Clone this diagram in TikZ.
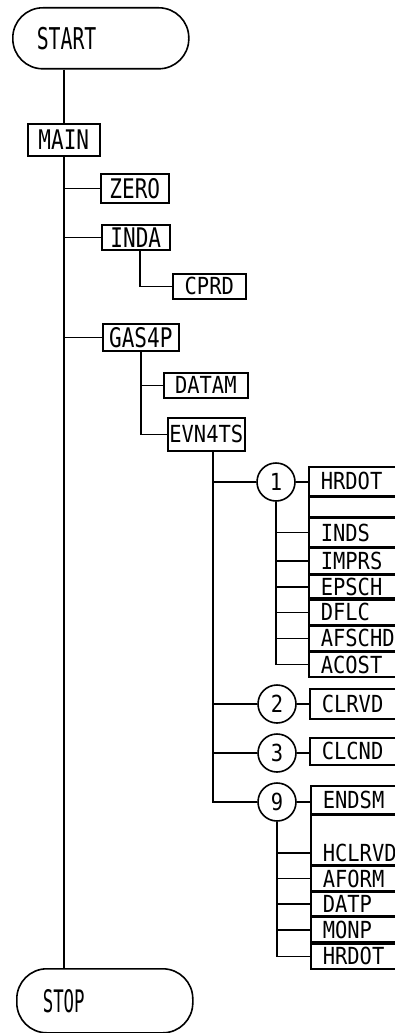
\documentclass[tikz,border=0pt]{standalone}
\usepackage{fontspec}
\newfontfamily\lblfont[FakeStretch=0.87]{DejaVu Sans Mono}
\newfontfamily\bigfont[FakeStretch=0.78]{DejaVu Sans Mono}
\newfontfamily\startfont[FakeStretch=0.66]{DejaVu Sans Mono}
\newfontfamily\stopfont[FakeStretch=0.56]{DejaVu Sans Mono}
\newcommand\lblsize{\lblfont\fontsize{23.5pt}{23.5pt}\selectfont}
\newcommand\bigsize{\bigfont\fontsize{27pt}{27pt}\selectfont}
\newcommand\startsize{\startfont\fontsize{30pt}{30pt}\selectfont}
\newcommand\stopsize{\stopfont\fontsize{31pt}{31pt}\selectfont}
\begin{document}
\begin{tikzpicture}[x=1pt,y=-1pt,line width=1.6pt,
  box/.style={draw, anchor=north west, inner sep=0pt, font=\lblsize, text height=17pt, text depth=0pt},
  bigbox/.style={box, font=\bigsize, text height=19.5pt},
  rbox/.style={draw, anchor=north west, inner xsep=12pt, inner ysep=0pt, text width=100pt, align=left, font=\lblsize, text height=17pt, text depth=0pt},
  circ/.style={draw, circle, minimum size=38pt, inner sep=0pt, font=\lblsize, text height=17pt, text depth=0pt},
  term/.style={draw, rounded corners=30pt, anchor=north west, align=left, inner ysep=0pt}]
\useasboundingbox (0,0) rectangle (395,1033);
\clip (0,0) rectangle (395,1033);
% terminals
\node[term, font=\startsize, text height=22pt, text depth=0pt, inner xsep=24pt, text width=128pt, minimum height=61pt] (start) at (12,7) {START};
\node[term, font=\stopsize, text height=23pt, text depth=0pt, inner xsep=26pt, text width=124pt, minimum height=64pt] (stop) at (16,968) {STOP};
% left part
\node[bigbox, minimum width=72pt, minimum height=32pt] (main) at (27,123) {MAIN};
\node[bigbox, minimum width=68pt, minimum height=29pt] (zero) at (100,173) {ZERO};
\node[bigbox, minimum width=68pt, minimum height=25pt] (inda) at (101,224) {INDA};
\node[box, minimum width=73pt, minimum height=25pt] (cprd) at (172,273) {CPRD};
\node[bigbox, minimum width=76pt, minimum height=27pt] (gas) at (102,323) {GAS4P};
\node[box, minimum width=84pt, minimum height=25pt] (datam) at (163,372) {DATAM};
\node[box, minimum width=77pt, minimum height=33pt] (evn) at (167,417) {EVN4TS};
% circles
\node[circ] (c1) at (276,482) {1};
\node[circ] (c2) at (277,704) {2};
\node[circ] (c3) at (277,753) {3};
\node[circ] (c9) at (277,802) {9};
% group 1
\node[rbox, minimum height=29pt] (h1) at (308,466) {HRDOT};
\node[rbox, minimum height=19pt] (e1) at (h1.south west) {};
\node[rbox, minimum height=29pt] (inds) at (e1.south west) {INDS};
\node[rbox, minimum height=25pt] (imprs) at (inds.south west) {IMPRS};
\node[rbox, minimum height=23pt] (epsch) at (imprs.south west) {EPSCH};
\node[rbox, minimum height=25pt] (dflc) at (epsch.south west) {DFLC};
\node[rbox, minimum height=24pt] (afschd) at (dflc.south west) {AFSCHD};
\node[rbox, minimum height=25pt] (acost) at (afschd.south west) {ACOST};
% groups 2,3
\node[rbox, minimum height=30pt] (clrvd) at (309,688) {CLRVD};
\node[rbox, minimum height=27pt] (clcnd) at (309,737) {CLCND};
% group 9
\node[rbox, minimum height=28pt] (endsm) at (310,785) {ENDSM};
\node[rbox, minimum height=49pt] (e9) at (endsm.south west) {};
\node[anchor=south west, inner xsep=12pt, inner ysep=3pt, font=\lblsize, text height=17pt, text depth=0pt] (hcl) at (e9.south west) {HCLRVD};
\node[rbox, minimum height=25pt] (aform) at (e9.south west) {AFORM};
\node[rbox, minimum height=23pt] (datp) at (aform.south west) {DATP};
\node[rbox, minimum height=25pt] (monp) at (datp.south west) {MONP};
\node[rbox, minimum height=25pt] (hrdot2) at (monp.south west) {HRDOT};
% connectors
\draw (main.north |- start.south) -- (main.north);
\draw (main.south) -- (main.south |- stop.north);
\draw (main.south |- zero.west) -- (zero.west);
\draw (main.south |- inda.west) -- (inda.west);
\draw (main.south |- gas.west) -- (gas.west);
\draw ([xshift=4pt]inda.south) |- (cprd.west);
\draw (gas.south) |- (datam.west);
\draw (gas.south) |- (evn.west);
\coordinate (es) at ([xshift=6.5pt]evn.south);
\draw (es) |- (c1.west);
\draw (es) |- (c2.west);
\draw (es) |- (c3.west);
\draw (es) |- (c9.west);
\draw (c1.east) -- (c1.east -| h1.west);
\draw (c1.south) |- (inds.west);
\draw (c1.south) |- (imprs.west);
\draw (c1.south) |- (epsch.west);
\draw (c1.south) |- (dflc.west);
\draw (c1.south) |- (afschd.west);
\draw (c1.south) |- (acost.west);
\draw (c2.east) -- (c2.east -| clrvd.west);
\draw (c3.east) -- (c3.east -| clcnd.west);
\draw (c9.east) -- (c9.east -| endsm.west);
\draw (c9.south) |- (hcl.west);
\draw (c9.south) |- (aform.west);
\draw (c9.south) |- (datp.west);
\draw (c9.south) |- (monp.west);
\draw (c9.south) |- (hrdot2.west);
\end{tikzpicture}
\end{document}
